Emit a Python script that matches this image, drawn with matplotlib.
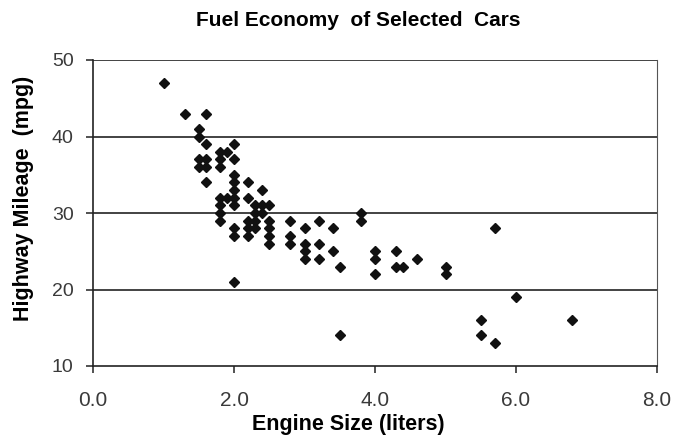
import matplotlib
matplotlib.use('Agg')
import matplotlib.pyplot as plt

# engine size (liters) and highway mileage (mpg)
engine = [1.0, 1.3, 1.6, 1.5, 1.5, 1.6, 2.0, 1.8, 1.9, 1.5, 1.6, 1.8, 2.0,
          1.5, 1.6, 1.8, 1.6, 2.0, 2.0, 2.0, 2.0, 2.0, 2.2, 2.4, 2.2, 1.8,
          1.9, 1.8, 1.8, 1.8, 2.3, 2.4, 2.5, 2.3, 2.4, 2.2, 2.3, 2.5, 2.2,
          2.3, 2.2, 2.5, 2.5, 2.5, 2.0, 2.0, 2.8, 2.8, 2.8, 3.0, 3.2, 3.4,
          3.0, 3.0, 3.0, 3.2, 3.2, 3.4, 3.5, 2.0, 3.8, 3.8, 4.0, 4.0, 4.0,
          4.3, 4.3, 4.4, 4.6, 5.0, 5.0, 5.7, 6.0, 5.5, 5.5, 5.7, 6.8, 3.5]
mpg = [47, 43, 43, 41, 40, 39, 39, 38, 38, 37, 37, 37, 37,
       36, 36, 36, 34, 35, 34, 33, 32, 31, 34, 33, 32, 32,
       32, 31, 30, 29, 31, 31, 31, 30, 30, 29, 29, 29, 28,
       28, 27, 28, 27, 26, 28, 27, 29, 27, 26, 28, 29, 28,
       26, 25, 24, 26, 24, 25, 23, 21, 30, 29, 25, 24, 22,
       25, 23, 23, 24, 23, 22, 28, 19, 16, 14, 13, 16, 14]

xticks = [0, 2, 4, 6, 8]
yticks = [10, 20, 30, 40, 50]

plt.rcParams['font.family'] = ['Liberation Sans', 'DejaVu Sans']

fig = plt.figure(figsize=(6.79, 4.43), dpi=100)
# plot area in pixels: x 93..657, y 60..366
ax = fig.add_axes([93/679, 1-366/443, 564/679, 306/443])

ax.plot(engine, mpg, 'D', color='#111111', markersize=5.5, zorder=3)

ax.set_xlim(0, 8)
ax.set_ylim(10, 50)
ax.set_xticks(xticks)
ax.set_xticklabels(['%.1f' % v for v in xticks])
ax.set_yticks(yticks)
for y in yticks[1:]:
    ax.axhline(y, color='#222222', lw=1.2, zorder=1)

for s in ['left', 'bottom']:
    ax.spines[s].set_color('#222222')
    ax.spines[s].set_linewidth(1.2)
ax.spines['top'].set_visible(False)
ax.spines['right'].set_linewidth(0.8)
ax.spines['right'].set_color('#555555')

ax.tick_params(axis='both', direction='out', length=5, width=1.1,
               colors='#222222', labelcolor='#3a3a3a')
ax.tick_params(axis='x', pad=13, labelsize=15)
ax.tick_params(axis='y', pad=9, labelsize=14)

ax.set_xlabel('Engine Size (liters)', fontsize=15.5, fontweight='bold')
ax.set_ylabel('Highway Mileage  (mpg)', fontsize=15.5, fontweight='bold')
# labels sit a bit off-centre in the original
ax.xaxis.set_label_coords(0.452, -0.158)
ax.yaxis.set_label_coords(-0.105, 0.549)
fig.text(358/679, 1-21/443, 'Fuel Economy  of Selected  Cars', ha='center', va='center',
         fontsize=15, fontweight='bold')

plt.savefig('out.png', dpi=100)
